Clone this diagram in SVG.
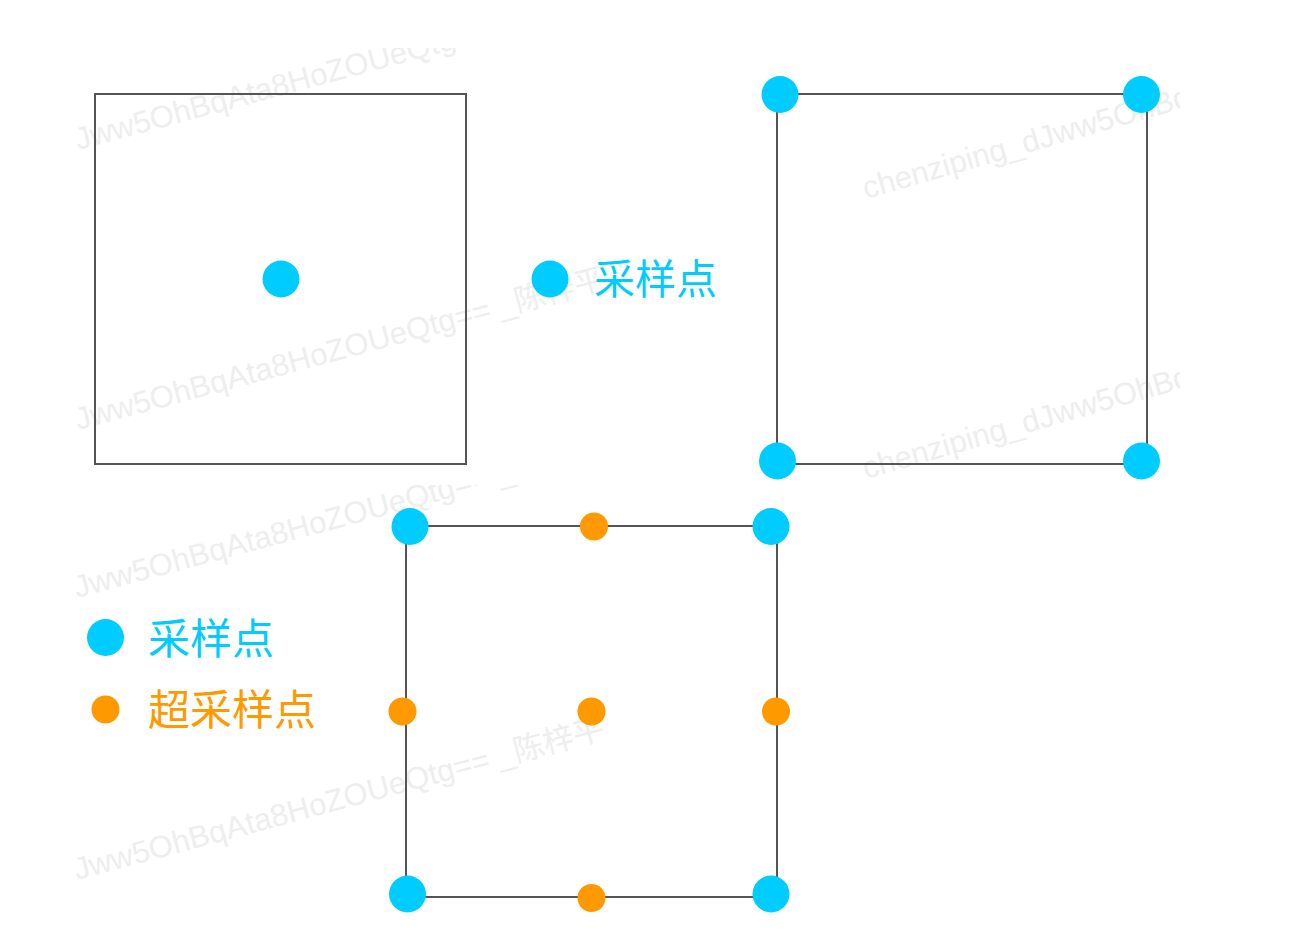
<svg xmlns="http://www.w3.org/2000/svg" width="1315" height="952" viewBox="0 0 1315 952">
<style>
.box{fill:none;stroke:#555;stroke-width:2}
.s{fill:#00CCFF}
.o{fill:#FF9900}
.wm{fill:#eeeeee;font-family:"Liberation Sans","Noto Sans CJK SC",sans-serif;font-size:31px}
.lb{font-family:"Noto Sans CJK SC",sans-serif}
</style>
<defs>
<clipPath id="cA"><rect x="0" y="48" width="1315" height="437"/></clipPath>
<clipPath id="cR"><rect x="0" y="48" width="1180" height="435"/></clipPath>
<clipPath id="cB"><rect x="0" y="485" width="1315" height="440"/></clipPath>
</defs>
<rect width="1315" height="952" fill="#fff"/>
<g id="watermarks">
<g clip-path="url(#cA)">
<text class="wm" x="78" y="150" transform="rotate(-15 78 150)">Jww5OhBqAta8HoZOUeQtg== _陈梓平</text>
<text class="wm" x="78" y="430" transform="rotate(-15 78 430)">Jww5OhBqAta8HoZOUeQtg== _陈梓平</text>
</g>
<g clip-path="url(#cR)">
<text class="wm" x="866" y="199" transform="rotate(-16 866 199)">chenziping_dJww5OhBqAta8</text>
<text class="wm" x="866" y="479" transform="rotate(-16 866 479)">chenziping_dJww5OhBqAta8</text>
</g>
<g clip-path="url(#cB)">
<text class="wm" x="77" y="598" transform="rotate(-15 77 598)">Jww5OhBqAta8HoZOUeQtg== _陈梓平</text>
<text class="wm" x="77" y="880" transform="rotate(-15 77 880)">Jww5OhBqAta8HoZOUeQtg== _陈梓平</text>
</g>
</g>
<g id="box1">
<rect class="box" x="95" y="94" width="371" height="370"/>
<circle class="s" cx="281" cy="279" r="18.5"/>
</g>
<g id="legend1">
<circle class="s" cx="550" cy="279" r="18.5"/>
<text class="lb" x="594" y="294" font-size="41" fill="#00CCFF">采样点</text>
</g>
<g id="box2">
<rect class="box" x="777" y="94" width="370" height="370"/>
<circle class="s" cx="780" cy="94.5" r="18.5"/>
<circle class="s" cx="1141.5" cy="94.5" r="18.5"/>
<circle class="s" cx="777.5" cy="461" r="18.5"/>
<circle class="s" cx="1141.5" cy="461" r="18.5"/>
</g>
<g id="box3">
<rect class="box" x="406" y="526" width="371" height="371"/>
<circle class="s" cx="410" cy="526.5" r="18.5"/>
<circle class="s" cx="771" cy="526.5" r="18.5"/>
<circle class="s" cx="407.5" cy="894" r="18.5"/>
<circle class="s" cx="771" cy="894" r="18.5"/>
<circle class="o" cx="594" cy="526.5" r="14"/>
<circle class="o" cx="402.5" cy="711.5" r="14"/>
<circle class="o" cx="591.5" cy="711.5" r="14"/>
<circle class="o" cx="776" cy="711.5" r="14"/>
<circle class="o" cx="591.5" cy="898" r="14"/>
</g>
<g id="legend2">
<circle class="s" cx="105.5" cy="637.5" r="18.5"/>
<text class="lb" x="148" y="654" font-size="42" fill="#00CCFF">采样点</text>
<circle class="o" cx="105.5" cy="709.5" r="14"/>
<text class="lb" x="148" y="725" font-size="42" fill="#FF9900">超采样点</text>
</g>
</svg>
